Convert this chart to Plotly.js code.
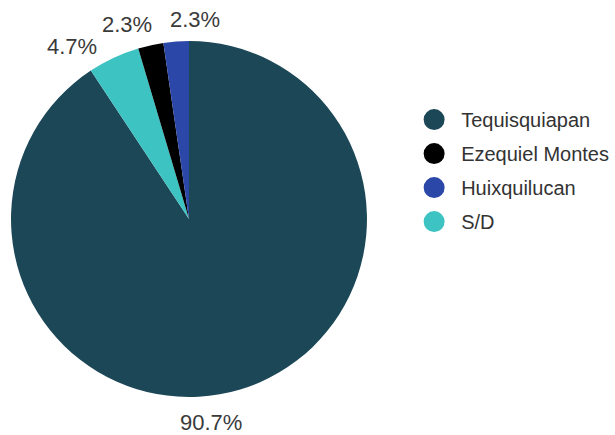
<!DOCTYPE html>
<html>
<head>
<meta charset="utf-8">
<script src="https://cdn.plot.ly/plotly-3.0.1.min.js"></script>
<style>html,body{margin:0;padding:0;background:#fff;}#chart{width:615px;height:435px;}</style>
</head>
<body>
<div id="chart"></div>
<script>
// Slices in drawing order (clockwise from 12 o'clock)
const sliceLabels = ["Tequisquiapan", "S/D", "Ezequiel Montes", "Huixquilucan"];
const sliceValues = [90.7, 4.7, 2.3, 2.3];
const sliceColors = ["#1b4756", "#3ec3c3", "#000000", "#2b47a8"];
// Legend order
const legendLabels = ["Tequisquiapan", "Ezequiel Montes", "Huixquilucan", "S/D"];

const colorOf = {};
sliceLabels.forEach((l, i) => colorOf[l] = sliceColors[i]);

const FONT = "Liberation Sans, Arial, sans-serif";
const W = 615, H = 435;

const traces = [{
  type: "pie",
  labels: sliceLabels,
  values: sliceValues,
  sort: false,
  direction: "clockwise",
  rotation: 0,
  marker: {colors: sliceColors, line: {width: 0}},
  textinfo: "none",
  hoverinfo: "label+percent",
  showlegend: false,
  domain: {x: [0.0179, 0.5967], y: [0.0874, 0.9057]}
}];

legendLabels.forEach((l, i) => {
  traces.push({
    type: "scatter",
    mode: "markers",
    x: [null], y: [null],
    name: l,
    legendgroup: "g" + i,
    marker: {color: colorOf[l], size: 16, symbol: "circle", line: {color: colorOf[l], width: 5}},
    showlegend: true,
    hoverinfo: "skip"
  });
});

// Label placement (pixel positions of each slice's percentage label, layout only)
const labelPos = {
  "Tequisquiapan": [211, 422],
  "S/D": [72, 46],
  "Ezequiel Montes": [127, 24],
  "Huixquilucan": [195, 20]
};
const total = sliceValues.reduce((a, b) => a + b, 0);
const annotations = sliceLabels.map((l, i) => ({
  xref: "paper", yref: "paper",
  x: labelPos[l][0] / W, y: 1 - labelPos[l][1] / H,
  xanchor: "center", yanchor: "middle",
  text: (100 * sliceValues[i] / total).toFixed(1) + "%",
  showarrow: false,
  font: {family: FONT, size: 22, color: "#3a3a3a"}
}));

const layout = {
  width: W, height: H,
  margin: {l: 0, r: 0, t: 0, b: 0},
  paper_bgcolor: "#ffffff",
  plot_bgcolor: "rgba(0,0,0,0)",
  xaxis: {visible: false, domain: [0.7, 0.71]},
  yaxis: {visible: false, domain: [0.7, 0.71]},
  showlegend: true,
  annotations: annotations,
  legend: {
    x: 0.662, y: 0.770, xanchor: "left", yanchor: "top",
    font: {family: FONT, size: 20, color: "#333333"},
    tracegroupgap: 5,
    itemwidth: 44,
    bgcolor: "rgba(0,0,0,0)"
  }
};

Plotly.newPlot("chart", traces, layout, {displayModeBar: false, staticPlot: true});
</script>
</body>
</html>
